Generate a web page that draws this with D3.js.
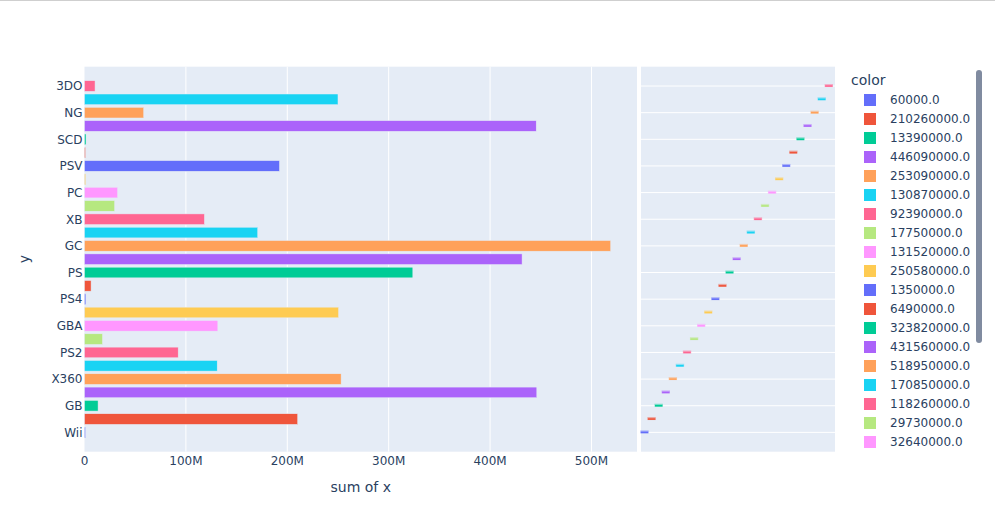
<!DOCTYPE html>
<html>
<head>
<meta charset="utf-8">
<script src="https://cdn.jsdelivr.net/npm/d3@7"></script>
<style>
  body { margin: 0; background: #fff; }
  text { font-family: "DejaVu Sans", Verdana, sans-serif; fill: #2a3f5f; }
</style>
</head>
<body>
<div id="chart"></div>
<script>
// one bar per colour trace, in order of first appearance
const platforms = ["Wii", "NES", "GB", "DS", "X360", "PS3", "PS2", "SNES", "GBA", "3DS",
    "PS4", "N64", "PS", "PSP", "GC", "XOne", "XB", "WiiU", "PC", "2600",
    "PSV", "GEN", "SCD", "DC", "NG", "SAT", "3DO"];
const sums = [60000, 210260000, 13390000, 446090000, 253090000, 130870000, 92390000, 17750000,
    131520000, 250580000, 1350000, 6490000, 323820000, 431560000, 518950000, 170850000,
    118260000, 29730000, 32640000, 1200000, 192300000, 200000, 1500000, 445500000,
    58400000, 250000000, 10400000];
const xTicks = [0, 100e6, 200e6, 300e6, 400e6, 500e6];
const palette = ["#636EFA", "#EF553B", "#00CC96", "#AB63FA", "#FFA15A",
    "#19D3F3", "#FF6692", "#B6E880", "#FF97FF", "#FECB52"];

const width = 995, height = 507;
const main = { left: 84.5, right: 637, top: 66.7, bottom: 451.7 },
    side = { left: 641, right: 835 };

const svg = d3.select("#chart").append("svg")
    .attr("width", width)
    .attr("height", height);

svg.append("line")
    .attr("x1", 0).attr("x2", width)
    .attr("y1", 0.5).attr("y2", 0.5)
    .attr("stroke", "#cfcfcf");

const idx = d3.range(platforms.length);
const color = i => palette[i % palette.length];

const x = d3.scaleLinear()
    .domain([0, d3.max(sums) * 1.05])
    .range([main.left, main.right]);

const y = d3.scaleLinear()
    .domain([-1.45, platforms.length + 0.45])
    .range([main.bottom, main.top]);

const step = Math.abs(y(1) - y(0));

// panels
svg.append("rect")
    .attr("x", main.left).attr("y", main.top)
    .attr("width", main.right - main.left).attr("height", main.bottom - main.top)
    .attr("fill", "#E5ECF6");
svg.append("rect")
    .attr("x", side.left).attr("y", main.top)
    .attr("width", side.right - side.left).attr("height", main.bottom - main.top)
    .attr("fill", "#E5ECF6");

// vertical grid in main
svg.append("g")
    .selectAll("line")
    .data(xTicks.slice(1))
    .join("line")
    .attr("x1", d => x(d)).attr("x2", d => x(d))
    .attr("y1", main.top).attr("y2", main.bottom)
    .attr("stroke", "#fff");

// horizontal grid in the marginal panel (labelled categories only)
const labelled = idx.filter(i => i % 2 === 0);
svg.append("g")
    .selectAll("line")
    .data(labelled)
    .join("line")
    .attr("x1", side.left).attr("x2", side.right)
    .attr("y1", d => y(d)).attr("y2", d => y(d))
    .attr("stroke", "#fff");

// bars (tiny ones still show a sliver, like plotly does)
const barH = step * 0.8;
svg.append("g")
    .selectAll("rect")
    .data(idx)
    .join("rect")
    .attr("x", x(0))
    .attr("y", i => y(i) - barH / 2)
    .attr("width", i => Math.max(1, x(sums[i]) - x(0)))
    .attr("height", barH)
    .attr("fill", i => color(i))
    .attr("stroke", "#E5ECF6")
    .attr("stroke-width", 0.5);

// marginal boxes: one degenerate box per colour, offset across the panel
const bx = d3.scalePoint()
    .domain(idx)
    .range([side.left + 3.5, side.right - 6.2]);
const boxW = 7.4;
const boxes = svg.append("g")
    .selectAll("g")
    .data(idx)
    .join("g");
boxes.append("rect")
    .attr("x", i => bx(i) - boxW / 2 - 0.5)
    .attr("y", i => y(i) - 2)
    .attr("width", boxW + 1)
    .attr("height", 3)
    .attr("fill", i => color(i))
    .attr("opacity", 0.45);
boxes.append("line")
    .attr("x1", i => bx(i) - boxW / 2)
    .attr("x2", i => bx(i) + boxW / 2)
    .attr("y1", i => y(i)).attr("y2", i => y(i))
    .attr("stroke", i => color(i))
    .attr("stroke-width", 1.6);

// x axis labels
svg.append("g")
    .selectAll("text")
    .data(xTicks)
    .join("text")
    .attr("x", d => x(d))
    .attr("y", 465)
    .attr("text-anchor", "middle")
    .style("font-size", "12px")
    .text(d => d === 0 ? "0" : d3.format("~s")(d));

svg.append("text")
    .attr("x", (main.left + main.right) / 2)
    .attr("y", 492)
    .attr("text-anchor", "middle")
    .style("font-size", "14px")
    .text("sum of x");

// y axis labels, every other category
svg.append("g")
    .selectAll("text")
    .data(labelled)
    .join("text")
    .attr("x", main.left - 2)
    .attr("y", d => y(d))
    .attr("dy", "0.36em")
    .attr("text-anchor", "end")
    .style("font-size", "12px")
    .text(d => platforms[d]);

svg.append("text")
    .attr("transform", `translate(29, ${(main.top + main.bottom) / 2}) rotate(-90)`)
    .attr("text-anchor", "middle")
    .style("font-size", "14px")
    .text("y");

// legend: only the entries that fit above the plot bottom, plus a scrollbar
svg.append("text")
    .attr("x", 851)
    .attr("y", 80)
    .attr("dy", "0.36em")
    .style("font-size", "14px")
    .text("color");

const rowY = i => 100 + i * 19;
const legend = svg.append("g")
    .selectAll("g")
    .data(idx.filter(i => rowY(i) + 7 < main.bottom))
    .join("g")
    .attr("transform", i => `translate(864, ${rowY(i)})`);
legend.append("rect")
    .attr("x", 0).attr("y", -6)
    .attr("width", 12).attr("height", 12)
    .attr("fill", i => color(i));
legend.append("text")
    .attr("x", 26)
    .attr("dy", "0.36em")
    .style("font-size", "12px")
    .text(i => sums[i].toFixed(1));

svg.append("rect")
    .attr("x", 976).attr("y", 70)
    .attr("width", 6).attr("height", 273)
    .attr("rx", 3)
    .attr("fill", "#808BA0");
</script>
</body>
</html>
